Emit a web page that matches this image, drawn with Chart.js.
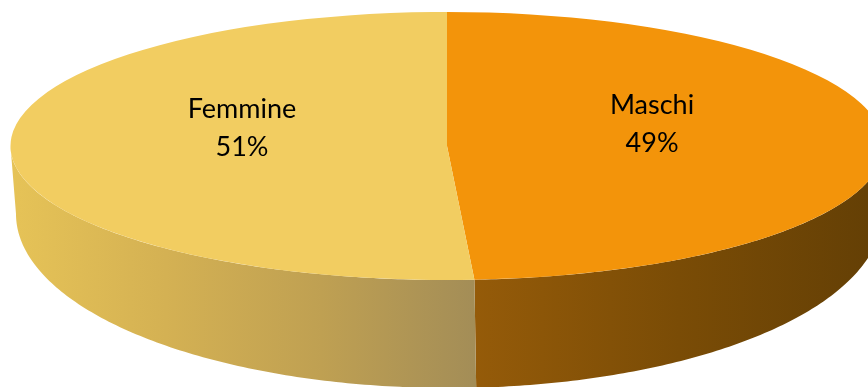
<!DOCTYPE html>
<html>
<head>
<meta charset="utf-8">
<script src="https://cdn.jsdelivr.net/npm/chart.js@4/dist/chart.umd.min.js"></script>
<style>
  html, body { margin: 0; padding: 0; background: #ffffff; }
  #wrap { width: 868px; height: 387px; position: relative; }
</style>
</head>
<body>
<div id="wrap"><canvas id="c"></canvas></div>
<script>
// Data
const categories = ['Maschi', 'Femmine'];
const shares = [49, 51];

// Colours: top face of each slice, and the shaded wall (left -> right)
const faceColors = ['#F3940A', '#F2CD61'];
const wallColors = [
  ['#955B09', '#7A4C06', '#633F05'],
  ['#E6C357', '#D4B153', '#BFA052', '#A38D57']
];

// Disc geometry: top rim ellipse and base rim ellipse
const TOP  = { cx: 447, cy: 146, rx: 436.5, ry: 134 };
const BASE = { cx: 449, cy: 214, rx: 433, ry: 174 };
const LABEL_RADIUS = 0.47;

function rim(e, t) {
  return [e.cx + e.rx * Math.cos(t), e.cy + e.ry * Math.sin(t)];
}

// Parts of an angular span that face the viewer (lower half of the rim)
function frontSpans(a0, a1) {
  const spans = [];
  for (let k = -1; k <= 1; k++) {
    const lo = Math.max(a0, 2 * Math.PI * k);
    const hi = Math.min(a1, Math.PI + 2 * Math.PI * k);
    if (hi > lo) spans.push([lo, hi]);
  }
  return spans;
}

function drawWall(ctx, a0, a1, stops) {
  frontSpans(a0, a1).forEach(([lo, hi]) => {
    const steps = 120;
    ctx.beginPath();
    for (let j = 0; j <= steps; j++) {
      const p = rim(TOP, lo + (hi - lo) * j / steps);
      if (j === 0) ctx.moveTo(p[0], p[1]); else ctx.lineTo(p[0], p[1]);
    }
    for (let j = steps; j >= 0; j--) {
      const p = rim(BASE, lo + (hi - lo) * j / steps);
      ctx.lineTo(p[0], p[1]);
    }
    ctx.closePath();
    const xs = [rim(TOP, lo)[0], rim(TOP, hi)[0], rim(BASE, lo)[0], rim(BASE, hi)[0]];
    const g = ctx.createLinearGradient(Math.min(...xs), 0, Math.max(...xs), 0);
    stops.forEach((c, k) => g.addColorStop(k / (stops.length - 1), c));
    ctx.fillStyle = g;
    ctx.fill();
  });
}

// Draws the disc walls, flattens the pie into the top ellipse, and writes the labels
const discPlugin = {
  id: 'disc3d',
  beforeDatasetsDraw(chart) {
    const ctx = chart.ctx;
    const arcs = chart.getDatasetMeta(0).data;
    arcs.forEach((arc, i) => drawWall(ctx, arc.startAngle, arc.endAngle, wallColors[i]));
    const a = arcs[0];
    const r = a.outerRadius;
    ctx.save();
    ctx.translate(TOP.cx, TOP.cy);
    ctx.scale(TOP.rx / r, TOP.ry / r);
    ctx.translate(-a.x, -a.y);
  },
  afterDatasetsDraw(chart) {
    const ctx = chart.ctx;
    ctx.restore();
    const arcs = chart.getDatasetMeta(0).data;
    const values = chart.data.datasets[0].data;
    const total = values.reduce((s, v) => s + v, 0);
    ctx.save();
    ctx.fillStyle = '#000000';
    ctx.textAlign = 'center';
    ctx.textBaseline = 'alphabetic';
    ctx.font = '27px Lato';
    arcs.forEach((arc, i) => {
      const mid = (arc.startAngle + arc.endAngle) / 2;
      const x = TOP.cx + TOP.rx * LABEL_RADIUS * Math.cos(mid);
      const y = TOP.cy + TOP.ry * LABEL_RADIUS * Math.sin(mid);
      ctx.fillText(chart.data.labels[i], x, y - 30);
      ctx.fillText(Math.round(values[i] / total * 100) + '%', x, y + 8);
    });
    ctx.restore();
  }
};

new Chart(document.getElementById('c'), {
  type: 'pie',
  data: {
    labels: categories,
    datasets: [{
      data: shares,
      backgroundColor: faceColors,
      borderWidth: 0,
      hoverOffset: 0,
      clip: false
    }]
  },
  options: {
    responsive: true,
    maintainAspectRatio: false,
    animation: false,
    events: [],
    layout: { padding: 0 },
    plugins: {
      legend: { display: false },
      tooltip: { enabled: false }
    }
  },
  plugins: [discPlugin]
});
</script>
</body>
</html>
